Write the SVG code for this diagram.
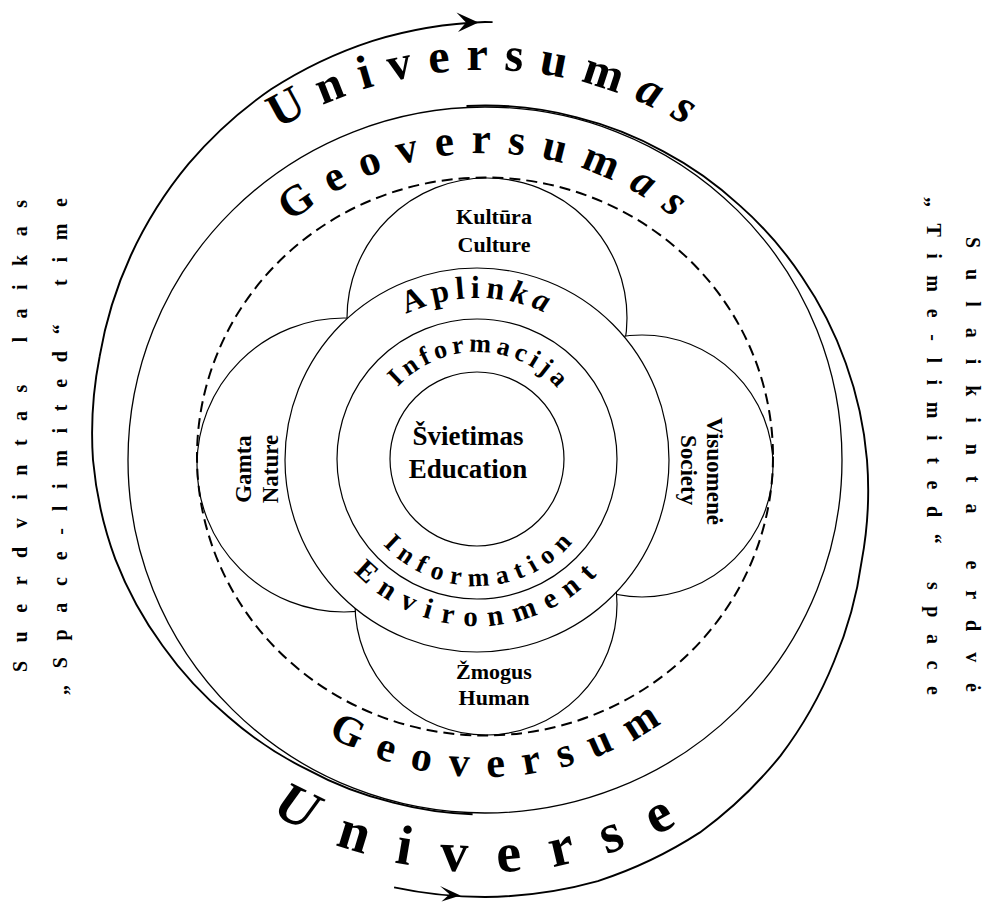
<svg xmlns="http://www.w3.org/2000/svg" width="988" height="902" viewBox="0 0 988 902">
<style>
.ln{fill:none;stroke:#000;stroke-width:1.3}
.sp{fill:none;stroke:#000;stroke-width:1.9}
.pt{fill:#fff;stroke:#000;stroke-width:1.2}
.ds{fill:none;stroke:#000;stroke-width:2;stroke-dasharray:11 6}
.ah{fill:#000;stroke:none}
.t{font-family:"Liberation Serif","Times New Roman",serif;font-weight:bold;fill:#000}
.lbl{text-anchor:middle}
.arc{text-anchor:middle}
.side{font-size:20px}
.it{font-style:italic}
</style>
<defs>
<path id="pUniv" d="M95,460 A390,390 0 0 1 875,460"/>
<path id="pGeo" d="M178,460 A307,307 0 0 1 792,460"/>
<path id="pApl" d="M315,460 A162,162 0 0 1 639,460"/>
<path id="pInf" d="M370,459 A107,107 0 0 1 584,459"/>
<path id="pInfB" d="M350,459 A127,127 0 0 0 604,459"/>
<path id="pEnv" d="M311,460 A166,166 0 0 0 643,460"/>
<path id="pGeoB" d="M168,460 A317,317 0 0 0 802,460"/>
<path id="pUnivB" d="M73,460 A412,412 0 0 0 897,460"/>
</defs>
<rect width="988" height="902" fill="#fff"/>

<g id="connectors">
<path id="spiral-left" class="sp" d="M492.6,22.1 A438,438 0 0 0 485,22 A436,436 0 0 0 372.7,40.8 A431,431 0 0 0 271,89.3 A423.5,423.5 0 0 0 188.7,163.7 A414,414 0 0 0 130.8,255.5 A404,404 0 0 0 99.6,356.7 A395.5,395.5 0 0 0 93,460 A387,387 0 0 0 115.3,559.1 A377,377 0 0 0 162.8,646 A367.5,367.5 0 0 0 228.3,716.7 A360,360 0 0 0 306.5,769.2 A356,356 0 0 0 393.2,802.7 A354.6,354.6 0 0 0 472.6,814.3"/>
<path id="spiral-right" class="sp" d="M394.1,887.4 A437,437 0 0 0 485,897 A436.5,436.5 0 0 0 597.8,881.1 A433,433 0 0 0 700,832.4 A424,424 0 0 0 780.6,755.6 A410.5,410.5 0 0 0 834,661.5 A396.5,396.5 0 0 0 861.7,560.9 A386,386 0 0 0 867,460 A377.7,377.7 0 0 0 845.8,363.3 A369.7,369.7 0 0 0 802,277 A363,363 0 0 0 739.6,205.4 A358.2,358.2 0 0 0 663.3,151.3 A355.6,355.6 0 0 0 576.8,117.3 A354.6,354.6 0 0 0 485,105.5 A354.5,354.5 0 0 0 466.5,106"/>
<path class="ah" d="M478.5,22.6 L456.5,12.5 L466,22.4 L458,32 Z"/>
<path class="ah" d="M460.5,895.6 L440,886 L449.5,894.3 L441.5,901.5 Z"/>
</g>

<g id="geoversum">
<ellipse class="ln" cx="485" cy="460" rx="357" ry="353"/>
</g>

<g id="kultura">
<circle class="pt" cx="487" cy="318" r="140"/>
</g>
<g id="gamta">
<circle class="pt" cx="344" cy="465" r="147"/>
</g>
<g id="visuomene">
<circle class="pt" cx="642" cy="466" r="131"/>
</g>
<g id="zmogus">
<circle class="pt" cx="486" cy="604" r="131"/>
</g>

<g id="boundary">
<ellipse class="ds" cx="485" cy="456.5" rx="288" ry="279"/>
</g>

<g id="aplinka">
<circle class="pt" cx="477" cy="460" r="192"/>
</g>
<g id="informacija">
<circle class="pt" cx="477" cy="459" r="140"/>
</g>
<g id="svietimas">
<circle class="pt" cx="477" cy="459" r="87"/>
</g>

<g id="arc-labels" class="t arc">
<text font-size="48" style="letter-spacing:15.9px"><textPath href="#pUniv" startOffset="616.5">Universum<tspan class="it">as</tspan></textPath></text>
<text font-size="43" style="letter-spacing:16.5px"><textPath href="#pGeo" startOffset="486.3">Geoversum<tspan class="it">as</tspan></textPath></text>
<text font-size="32" style="letter-spacing:5.8px"><textPath href="#pApl" startOffset="255.6">Aplin<tspan class="it">ka</tspan></textPath></text>
<text font-size="26" style="letter-spacing:4.7px"><textPath href="#pInf" startOffset="171.1">Informacija</textPath></text>
<text font-size="26" style="letter-spacing:7.8px"><textPath href="#pInfB" startOffset="204.5">Information</textPath></text>
<text font-size="29" style="letter-spacing:10.9px"><textPath href="#pEnv" startOffset="263.8">Environment</textPath></text>
<text font-size="42" style="letter-spacing:18.3px"><textPath href="#pGeoB" startOffset="518.4">Geoversum</textPath></text>
<text font-size="56" style="letter-spacing:30.4px"><textPath href="#pUnivB" startOffset="650.2"><tspan class="it">U</tspan>niverse</textPath></text>
</g>

<g id="labels" class="t lbl">
<text font-size="22" x="494" y="224">Kultūra</text>
<text font-size="22" x="494" y="252">Culture</text>
<text font-size="27" x="468" y="445">Švietimas</text>
<text font-size="27" x="468" y="478">Education</text>
<text font-size="22" x="494" y="679">Žmogus</text>
<text font-size="22" x="494" y="705">Human</text>
<text font-size="23" transform="translate(251,469) rotate(-90)">Gamta</text>
<text font-size="23" transform="translate(278,469) rotate(-90)">Nature</text>
<text font-size="23" transform="translate(707,471) rotate(90)">Visuomenė</text>
<text font-size="23" transform="translate(681,470) rotate(90)">Society</text>
</g>

<g id="side-labels" class="t side">
<text transform="translate(27,672) rotate(-90)" textLength="472" lengthAdjust="spacing">Suerdvintas laikas</text>
<text transform="translate(67,695) rotate(-90)" textLength="497" lengthAdjust="spacing">„Space-limited“ time</text>
<text transform="translate(966,237) rotate(90)" textLength="455" lengthAdjust="spacing">Sulaikinta erdvė</text>
<text transform="translate(927,197) rotate(90)" textLength="498" lengthAdjust="spacing">„Time-limited“ space</text>
</g>
</svg>
